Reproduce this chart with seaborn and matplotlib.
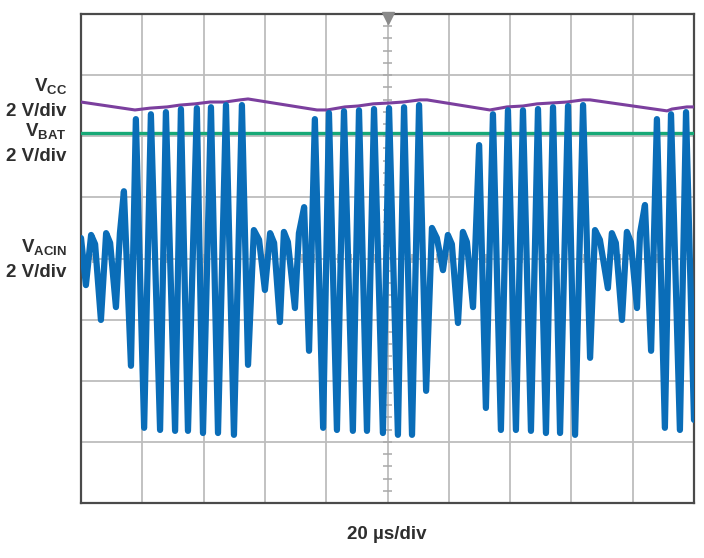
import numpy as np
import pandas as pd
import matplotlib
matplotlib.use("Agg")
import matplotlib.pyplot as plt
import seaborn as sns

# ---------------- data (time in µs, 20 µs/div; voltage in V on screen, 2 V/div) -------------
time_vacin_us = [
    0.0, 1.6, 3.3, 4.6, 6.5, 8.2, 9.5, 11.4, 12.7, 14.0, 16.3,
    17.9, 20.6, 22.8, 25.8, 27.7, 30.7, 32.6, 34.9, 37.8, 39.8, 42.4, 44.7, 47.3, 49.9, 52.5,
    54.5, 56.4, 58.1, 60.0, 61.7, 63.0, 64.9, 66.2, 67.5, 69.8, 71.1, 72.8, 74.4,
    76.3, 79.0, 80.9, 83.5, 85.8, 88.7, 90.7, 93.3, 95.6, 98.5, 100.5, 103.4, 105.4, 108.0, 110.3,
    112.6, 114.5, 116.1, 118.1, 119.7, 121.0, 123.0, 124.6, 125.9, 127.9, 129.9, 132.1,
    134.4, 137.0, 139.3, 141.9, 144.2, 146.8, 149.1, 151.7, 154.0, 156.3, 158.9, 161.2, 163.8,
    166.1, 167.7, 169.3, 171.9, 173.2, 174.5, 176.5, 178.1, 179.4, 181.4, 182.4, 184.0, 186.0,
    187.9, 190.5, 192.5, 195.4, 197.4, 200.0]
vacin_v = [
    0.67, -0.87, 0.77, 0.47, -2.01, 0.83, 0.51, -1.59, 0.83, 2.20, -3.51,
    4.56, -5.54, 4.72, -5.61, 4.79, -5.64, 4.89, -5.64, 4.92, -5.71, 4.95, -5.71, 5.02, -5.77, 5.02,
    -3.48, 0.93, 0.61, -1.03, 0.83, 0.51, -2.08, 0.87, 0.54, -1.62, 0.83, 1.68, -3.02,
    4.56, -5.54, 4.76, -5.61, 4.82, -5.64, 4.85, -5.64, 4.89, -5.71, 4.92, -5.77, 4.95, -5.77, 5.02,
    -4.33, 1.00, 0.67, -0.38, 0.77, 0.47, -2.11, 0.87, 0.54, -1.59, 3.71, -4.89,
    4.72, -5.61, 4.85, -5.61, 4.85, -5.64, 4.89, -5.71, 4.95, -5.71, 4.99, -5.77, 5.02,
    -3.25, 0.93, 0.61, -0.97, 0.83, 0.51, -2.01, 0.87, 0.54, -1.62, 0.83, 1.75, -3.02,
    4.56, -5.54, 4.72, -5.61, 4.79, -5.28]

time_vcc_us = [0.0, 17.6, 22.5, 28.1, 32.3, 37.2, 42.1, 47.0, 51.9, 54.5,
               77.0, 80.3, 86.1, 90.4, 95.3, 100.8, 105.1, 110.6, 112.9,
               133.4, 139.0, 144.2, 148.8, 158.6, 163.8, 166.1,
               191.2, 192.8, 197.7, 200.0]
vcc_v = [5.12, 4.86, 4.92, 4.96, 5.02, 5.06, 5.12, 5.12, 5.19, 5.22,
         4.86, 4.86, 4.96, 4.99, 5.06, 5.09, 5.12, 5.19, 5.19,
         4.86, 4.96, 4.99, 5.06, 5.12, 5.19, 5.19,
         4.83, 4.89, 4.96, 4.96]

time_vbat_us = [0.0, 200.0]
vbat_v = [4.12, 4.12]

channel_names = [r"V$_\mathregular{CC}$", r"V$_\mathregular{BAT}$", r"V$_\mathregular{ACIN}$"]
scale_label = "2 V/div"
time_label = "20 µs/div"

# ---------------- figure ----------------
sns.set_style("white")
plt.rcParams["font.family"] = ["Liberation Sans Narrow", "Liberation Sans", "DejaVu Sans"]

W, H = 704, 558
fig = plt.figure(figsize=(W / 100, H / 100), dpi=100)
ax = fig.add_axes([81 / W, 1 - 503 / H, 613 / W, 489 / H])

ax.set_xlim(0, 200)
ax.set_ylim(-8, 8)
ax.set_xticks(np.arange(0, 201, 20))
ax.set_yticks(np.arange(-8, 9, 2))
ax.set_xticklabels([])
ax.set_yticklabels([])
ax.tick_params(length=0)
ax.grid(True, color="#BDBDBD", linewidth=1.3, zorder=0)
ax.set_axisbelow(True)
for sp in ax.spines.values():
    sp.set_color("#4A4A4A")
    sp.set_linewidth(1.6)

# center graticule minor ticks
ty = np.arange(-8, 8.01, 0.4)
ax.hlines(ty, 100 - 1.6, 100 + 1.6, color="#A8A8A8", linewidth=1.1, zorder=1)
tx = np.arange(0, 200.01, 4)
ax.vlines(tx, -0.16, 0.16, color="#A8A8A8", linewidth=1.1, zorder=1)
ax.plot([100], [7.86], marker="v", markersize=8, color="#8A8A8A", clip_on=False, zorder=5)

df_vcc = pd.DataFrame({"t": time_vcc_us, "v": vcc_v})
df_bat = pd.DataFrame({"t": time_vbat_us, "v": vbat_v})
df_ac = pd.DataFrame({"t": time_vacin_us, "v": vacin_v})

sns.lineplot(data=df_vcc, x="t", y="v", ax=ax, color="#7B3F9E", linewidth=2.2,
             estimator=None, sort=False, zorder=3)
sns.lineplot(data=df_bat, x="t", y="v", ax=ax, color="#17A977", linewidth=2.4,
             estimator=None, sort=False, zorder=3)
sns.lineplot(data=df_ac, x="t", y="v", ax=ax, color="#0A6DB8", linewidth=4.5,
             estimator=None, sort=False, zorder=4, solid_joinstyle="round",
             solid_capstyle="round")
ax.set_xlabel("")
ax.set_ylabel("")

# ---------------- labels ----------------
txt = dict(fontsize=13.5, fontweight="bold", color="#2E2E2E", ha="right", va="baseline")
def fy(py):
    return 1 - py / H
fig.text(67 / W, fy(92), channel_names[0], **txt)
fig.text(66 / W, fy(116), scale_label, **txt)
fig.text(67 / W, fy(137), channel_names[1], **txt)
fig.text(66 / W, fy(161), scale_label, **txt)
fig.text(67 / W, fy(253), channel_names[2], **txt)
fig.text(66 / W, fy(277), scale_label, **txt)
fig.text(387 / W, fy(539), time_label, fontsize=13.5, fontweight="bold",
         color="#2E2E2E", ha="center", va="baseline")

fig.savefig("out.png", dpi=100)
